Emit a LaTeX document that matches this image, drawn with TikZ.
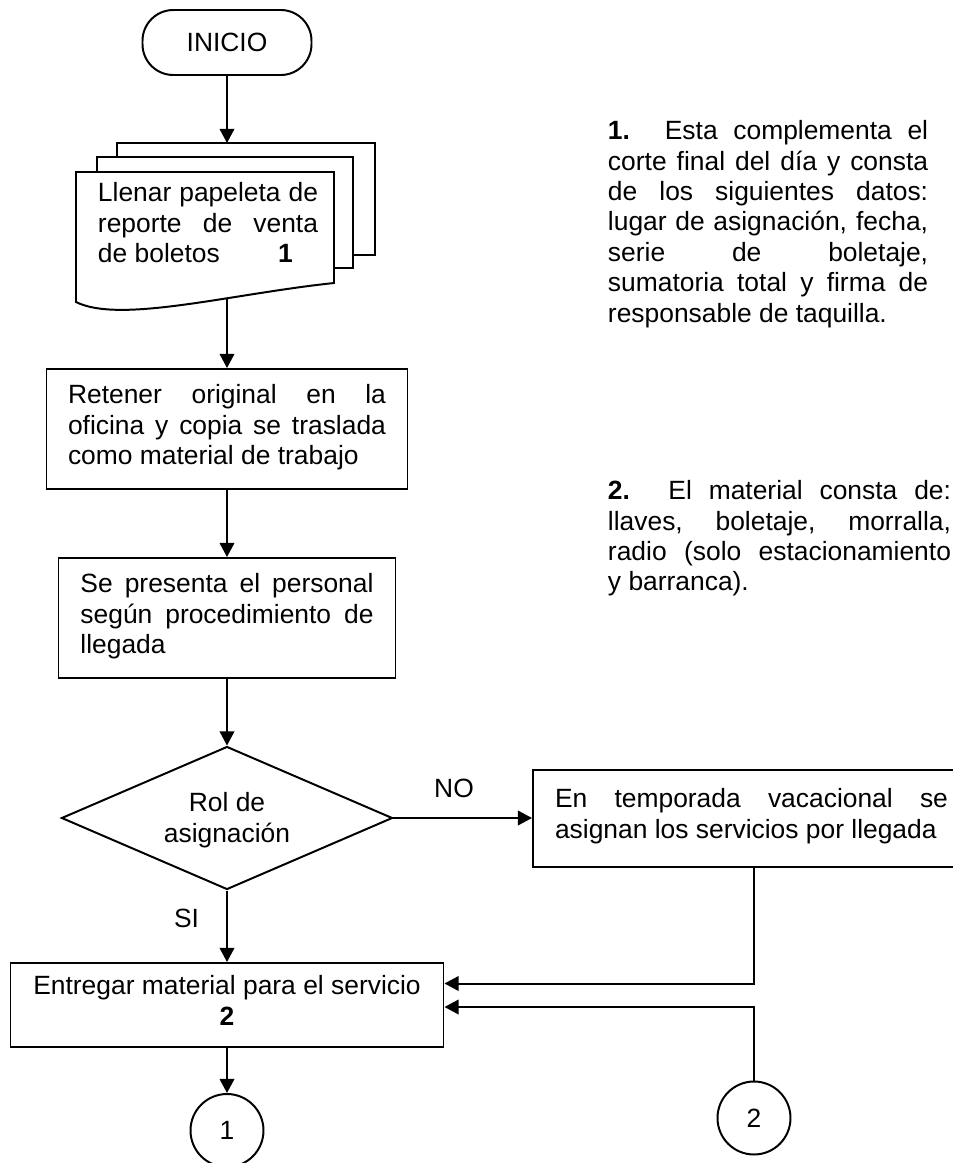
\documentclass[tikz,border=0pt]{standalone}
\usepackage{fontspec}
\setmainfont{Liberation Sans}
\usetikzlibrary{arrows.meta,shapes.geometric}
\newdimen\pxu
\pxu=0.4545pt
\newcommand\jline[2]{\makebox[#1][s]{#2}}
\begin{document}
\begin{tikzpicture}[x=0.4545pt,y=-0.4545pt,line width=0.9pt,
  font=\fontsize{12}{13.8}\selectfont,
  arr/.style={-{Triangle[length=6.4pt,width=6.6pt]}},
  procbox/.style={draw,rectangle,inner sep=0pt,align=left,execute at begin node=\strut,execute at end node=\strut},
  txtblock/.style={inner sep=0pt,align=left,anchor=north west,execute at begin node=\strut,execute at end node=\strut},
  conn/.style={draw,circle,inner sep=0pt,minimum size={73*\pxu}},
  lbl/.style={inner sep=0pt,anchor=base}]
\useasboundingbox (0,0) rectangle (953,1163);

% start
\node[draw,rounded corners=14pt,minimum width={169*\pxu},minimum height={65*\pxu},inner sep=0pt] (inicio) at (227,42.5) {INICIO};

% multi-document
\coordinate (docin) at (227,143);
\coordinate (docout) at (227,299);
\draw (117,157) -- (117,143) -- (375,143) -- (375,255) -- (353,255);
\draw (97,172) -- (97,157) -- (353,157) -- (353,268) -- (334,268);
\draw[fill=white] (76,302) -- (76,172) -- (334,172) -- (334,283) .. controls (230,294) and (120,324) .. (76,302) -- cycle;
\node[txtblock] (doc) at (97,181.75) {\jline{100pt}{Llenar papeleta de}\\\jline{100pt}{reporte de venta}\\de boletos\hspace{26.5pt}\textbf{1}};

% process boxes
\node[procbox,minimum width={361*\pxu},minimum height={120*\pxu}] (retener) at (227,429) {\jline{144.5pt}{Retener original en la}\\\jline{144.5pt}{oficina y copia se traslada}\\como material de trabajo};
\node[procbox,minimum width={337*\pxu},minimum height={120*\pxu}] (presenta) at (227,618) {\jline{133.2pt}{Se presenta el personal}\\\jline{133.2pt}{según procedimiento de}\\llegada};

% decision
\node[draw,diamond,inner sep=0pt,minimum width={331*\pxu},minimum height={143*\pxu}] (rol) at (227,818) {};
\node[inner sep=0pt,align=center,anchor=north,execute at begin node=\strut] (roltxt) at (227,791.75) {Rol de\\asignación};

\node[procbox,minimum width={437*\pxu},minimum height={97*\pxu}] (nobox) at (751.5,818) {\jline{178.6pt}{En temporada vacacional se}\\asignan los servicios por llegada};

\node[draw,rectangle,inner sep=0pt,align=center,minimum width={433*\pxu},minimum height={84*\pxu},execute at begin node=\strut,execute at end node=\strut] (entregar) at (227,1005) {Entregar material para el servicio\\\textbf{2}};

% connectors (circles)
\node[conn] (c1) at (227,1130.5) {1};
\node[conn] (c2) at (754,1118) {2};

% edges
\draw[arr] (inicio.south) -- (docin);
\draw[arr] (docout) -- (docout |- retener.north);
\draw[arr] (retener.south) -- (presenta.north);
\draw[arr] (presenta.south) -- (rol.north);
\draw[arr] (rol.east) -- (nobox.west);
\node[lbl] (no) at (454,797) {NO};
\draw[arr] (rol.south) -- (entregar.north);
\node[lbl] (si) at (186.5,927) {SI};
\draw[arr] (nobox.south -| c2) |- (entregar.east |- 0,983.5);
\draw[arr] (c2.north) |- (entregar.east |- 0,1007);
\draw[arr] (entregar.south) -- (c1.north);

% notes
\node[txtblock] (nota1) at (607,119.75) {\jline{145.5pt}{\textbf{1.} Esta complementa el}\\\jline{145.5pt}{corte final del día y consta}\\\jline{145.5pt}{de los siguientes datos:}\\\jline{145.5pt}{lugar de asignación, fecha,}\\\jline{145.5pt}{serie de boletaje,}\\\jline{145.5pt}{sumatoria total y firma de}\\responsable de taquilla.};
\node[txtblock] (nota2) at (607,479.75) {\jline{155.9pt}{\textbf{2.} El material consta de:}\\\jline{155.9pt}{llaves, boletaje, morralla,}\\\jline{155.9pt}{radio (solo estacionamiento}\\y barranca).};
\end{tikzpicture}
\end{document}
